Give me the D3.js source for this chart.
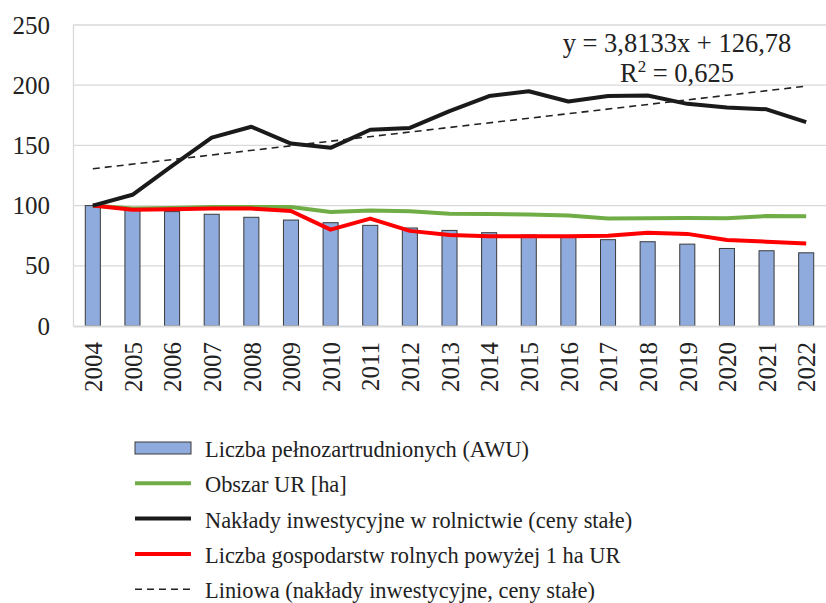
<!DOCTYPE html>
<html>
<head>
<meta charset="utf-8">
<script src="https://cdn.jsdelivr.net/npm/d3@7"></script>
<style>
  body { margin: 0; background: #fff; }
</style>
</head>
<body>
<div id="chart"></div>
<script>
// ─── DATA ───────────────────────────────────────────────────────────────────────
const years = ['2004','2005','2006','2007','2008','2009','2010','2011','2012','2013',
               '2014','2015','2016','2017','2018','2019','2020','2021','2022'];
// Liczba pełnozartrudnionych (AWU) - bars
const awu = [100, 96.7, 95, 92.8, 90.3, 88, 85.8, 83.6, 81.4, 79.4,
             77.5, 75.6, 74, 71.7, 70, 68, 64.4, 62.5, 60.8];
// Obszar UR [ha]
const obszar = [100, 97.5, 98, 98.8, 98.9, 98.8, 94.7, 96, 95.3, 93.3,
                93, 92.7, 91.7, 89.3, 89.5, 89.8, 89.5, 91.3, 91.1];
// Nakłady inwestycyjne (ceny stałe)
const naklady = [100, 109, 133, 156.5, 165.5, 151.5, 148, 163, 164.5, 178.5,
                 191, 195, 186.5, 191, 191.5, 184.5, 181.5, 180, 169.3];
// Liczba gospodarstw rolnych powyżej 1 ha UR
const gospodarstwa = [100, 96.5, 97, 97.5, 97.5, 95.5, 80, 89.2, 79, 75.5,
                      74.5, 74.5, 74.5, 75, 77.5, 76.5, 71.5, 70, 68.5];
// trend line from the label: y = 3,8133x + 126,78
const trendSlope = 3.8133;
const trendIntercept = 126.78;
const yTicks = [0, 50, 100, 150, 200, 250];

const legendItems = [
  {label: 'Liczba pełnozartrudnionych (AWU)', type: 'bar'},
  {label: 'Obszar UR [ha]', type: 'line', color: '#70ad47'},
  {label: 'Nakłady inwestycyjne w rolnictwie (ceny stałe)', type: 'line', color: '#1a1a1a'},
  {label: 'Liczba gospodarstw rolnych powyżej 1 ha UR', type: 'line', color: '#ff0000'},
  {label: 'Liniowa (nakłady inwestycyjne, ceny stałe)', type: 'dash', color: '#222'}
];

const FONT = '"Liberation Serif", "Times New Roman", serif';

// ─── CANVAS ─────────────────────────────────────────────────────────────────────
const W = 826, H = 603;
const plot = {left: 73, right: 826, top: 25, bottom: 326};

const svg = d3.select('#chart').append('svg')
  .attr('width', W).attr('height', H)
  .style('font-family', FONT);

// ─── SCALES ─────────────────────────────────────────────────────────────────────
const x = d3.scaleBand().domain(years).range([plot.left, plot.right]).paddingInner(0.62).paddingOuter(0.31);
const xc = d3.scalePoint().domain(years).range([plot.left, plot.right]).padding(0.5);
const y = d3.scaleLinear().domain([0, 250]).range([plot.bottom, plot.top]);

// grid
svg.append('g')
  .selectAll('line').data(yTicks.filter(d => d > 0)).enter().append('line')
  .attr('x1', plot.left).attr('x2', plot.right)
  .attr('y1', d => y(d)).attr('y2', d => y(d))
  .attr('stroke', '#d9d9d9').attr('stroke-width', 1.3);

// y axis
const yAxis = svg.append('g')
  .attr('transform', `translate(${plot.left},0)`)
  .call(d3.axisLeft(y).tickValues(yTicks).tickSize(0).tickPadding(23));
yAxis.attr('font-family', null);
yAxis.select('.domain').attr('stroke', '#d9d9d9').attr('stroke-width', 1.3);
yAxis.selectAll('text').style('font-size', '25px').style('font-family', FONT).attr('fill', '#222');

// ─── BARS ───────────────────────────────────────────────────────────────────────
svg.append('g').selectAll('rect').data(awu).enter().append('rect')
  .attr('x', (d, i) => x(years[i]))
  .attr('width', x.bandwidth())
  .attr('y', d => y(d))
  .attr('height', d => plot.bottom - y(d))
  .attr('fill', '#8faadc')
  .attr('stroke', '#3a3a3a')
  .attr('stroke-width', 1);

// x axis
const xAxis = svg.append('g')
  .attr('transform', `translate(0,${plot.bottom})`)
  .call(d3.axisBottom(xc).tickSize(0).tickPadding(0));
xAxis.attr('font-family', null);
xAxis.select('.domain').attr('stroke', '#d9d9d9').attr('stroke-width', 2);
xAxis.selectAll('text')
  .style('font-size', '25px')
  .style('font-family', FONT)
  .attr('fill', '#222')
  .attr('text-anchor', 'end')
  .attr('dy', '0.35em')
  .attr('transform', 'translate(0,16) rotate(-90)');

// ─── LINES ──────────────────────────────────────────────────────────────────────
const line = d3.line().x((d, i) => xc(years[i])).y(d => y(d));

[[obszar, '#70ad47'], [gospodarstwa, '#ff0000'], [naklady, '#1a1a1a']].forEach(([s, c]) => {
  svg.append('path').datum(s)
    .attr('d', line)
    .attr('fill', 'none')
    .attr('stroke', c)
    .attr('stroke-width', 4)
    .attr('stroke-linejoin', 'round');
});

// trend
const trend = [1, years.length].map(n => ({yr: years[n - 1], v: trendSlope * n + trendIntercept}));
svg.append('line')
  .attr('x1', xc(trend[0].yr)).attr('y1', y(trend[0].v))
  .attr('x2', xc(trend[1].yr)).attr('y2', y(trend[1].v))
  .attr('stroke', '#222').attr('stroke-width', 1.6)
  .attr('stroke-dasharray', '7,5');

// equation label
svg.append('text').attr('x', 677).attr('y', 52)
  .attr('text-anchor', 'middle').attr('fill', '#222').style('font-size', '26.5px')
  .text('y = 3,8133x + 126,78');
const r2 = svg.append('text').attr('x', 677).attr('y', 82)
  .attr('text-anchor', 'middle').attr('fill', '#222').style('font-size', '26.5px');
r2.append('tspan').text('R');
r2.append('tspan').attr('dy', -10).style('font-size', '17px').text('2');
r2.append('tspan').attr('dy', 10).text(' = 0,625');

// ─── LEGEND ─────────────────────────────────────────────────────────────────────
const leg = svg.append('g');
legendItems.forEach((it, i) => {
  const cy = 448 + i * 35.3;
  const g = leg.append('g');
  if (it.type === 'bar') {
    g.append('rect').attr('x', 135).attr('y', cy - 6).attr('width', 56).attr('height', 12)
      .attr('fill', '#8faadc').attr('stroke', '#3a3a3a').attr('stroke-width', 1);
  } else {
    g.append('line').attr('x1', 135).attr('x2', 191).attr('y1', cy).attr('y2', cy)
      .attr('stroke', it.color)
      .attr('stroke-width', it.type === 'dash' ? 1.6 : 4)
      .attr('stroke-dasharray', it.type === 'dash' ? '7,5' : null);
  }
  g.append('text').attr('x', 205).attr('y', cy + 9)
    .attr('fill', '#222').style('font-size', '22.4px').text(it.label);
});
</script>
</body>
</html>
